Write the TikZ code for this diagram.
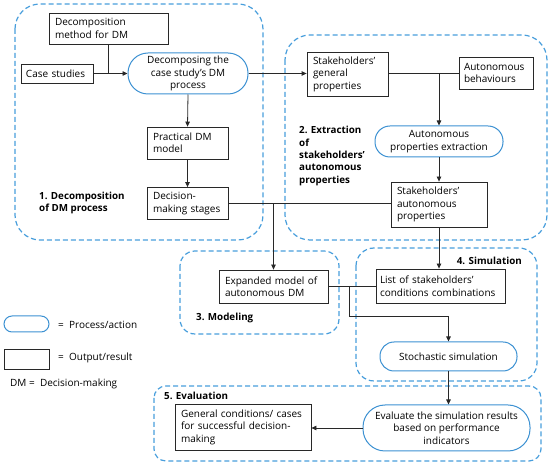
\documentclass[tikz,border=0pt]{standalone}
\usepackage{fontspec}
\setmainfont{Open Sans}
\usetikzlibrary{arrows.meta}
\definecolor{grpblue}{RGB}{72,158,220}
\definecolor{procblue}{RGB}{60,145,210}
\definecolor{linegray}{RGB}{40,40,40}
\tikzset{
  base/.style={font=\fontsize{10}{12.5}\selectfont, inner ysep=0pt, text=black},
  rbox/.style={base, draw=linegray, line width=0.8pt, align=left, inner xsep=6pt},
  proc/.style={base, draw=procblue, line width=1pt, rounded corners=13pt, align=center, inner xsep=4pt},
  grp/.style={draw=grpblue, line width=1.2pt, dash pattern=on 5pt off 3pt},
  lbl/.style={font=\bfseries\fontsize{9.8}{12.3}\selectfont, align=left, inner sep=0pt},
  conn/.style={draw=linegray, line width=0.8pt},
  arr/.style={conn, -{Triangle[length=5pt,width=4.5pt]}},
}
\begin{document}
\begin{tikzpicture}[x=1pt,y=-1pt]
\useasboundingbox (0,0) rectangle (550,462);
% groups
\draw[grp, rounded corners=25pt] (15,4) rectangle (263,240);
\draw[grp, rounded corners=25pt] (285,35) rectangle (547,240);
\draw[grp, rounded corners=15pt] (180,251) rectangle (339,334);
\draw[grp, rounded corners=18pt] (356,248) rectangle (537,381);
\draw[grp, rounded corners=12pt] (154,386) rectangle (541,461);
% group labels
\node[lbl, anchor=west] (l1) at (39,203) {1. Decomposition\\of DM process};
\node[lbl, anchor=west] (l2) at (299,156) {2. Extraction\\of\\stakeholders'\\autonomous\\properties};
\node[lbl, anchor=west] (l3) at (196,318) {3. Modeling};
\node[lbl, anchor=east] (l4) at (522,261) {4. Simulation};
\node[lbl, anchor=west] (l5) at (164,396) {5. Evaluation};
% nodes
\node[rbox, minimum width=119pt, text width=107pt, minimum height=31pt] (dmm) at (108.5,28.5) {Decomposition\\method for DM};
\node[rbox, minimum width=72pt, text width=62pt, minimum height=19pt, inner xsep=5pt] (case) at (57,73.5) {Case studies};
\node[proc, minimum width=120pt, minimum height=41pt, rounded corners=20pt] (dec) at (188,73.5) {Decomposing the\\case study's DM\\process};
\node[rbox, minimum width=81pt, text width=69pt, minimum height=32pt] (prac) at (187.5,143) {Practical DM\\model};
\node[rbox, minimum width=81pt, text width=69pt, minimum height=32pt] (stg) at (187.5,203.5) {Decision-\\making stages};
\node[rbox, minimum width=81pt, text width=69pt, minimum height=44pt] (gen) at (347.5,74) {Stakeholders'\\general\\properties};
\node[rbox, minimum width=74pt, text width=64pt, minimum height=32pt, inner xsep=5pt] (beh) at (496,73) {Autonomous\\behaviours};
\node[proc, minimum width=128pt, minimum height=31pt, rounded corners=15pt] (ape) at (439,141.5) {Autonomous\\properties extraction};
\node[rbox, minimum width=96pt, text width=84pt, minimum height=45pt] (sap) at (439,204.5) {Stakeholders'\\autonomous\\properties};
\node[rbox, minimum width=109pt, text width=97pt, minimum height=33pt] (exp) at (273.5,286.5) {Expanded model of\\autonomous DM};
\node[rbox, minimum width=129pt, text width=121pt, minimum height=34pt, inner xsep=4pt] (lst) at (440.5,286) {List of stakeholders'\\conditions combinations};
\node[proc, minimum width=137pt, minimum height=29pt, rounded corners=14pt] (sto) at (448.5,356.5) {Stochastic simulation};
\node[rbox, minimum width=136pt, text width=124pt, minimum height=46pt] (gcc) at (243,427) {General conditions/ cases\\for successful decision-\\making};
\node[proc, minimum width=167pt, minimum height=46pt, rounded corners=22pt] (eva) at (446.5,428) {Evaluate the simulation results\\based on performance\\indicators};
% legend
\node[proc, minimum width=45pt, minimum height=16pt, rounded corners=8pt] (lgp) at (26.5,324) {};
\node[base, anchor=west, inner xsep=0pt] (lgpt) at (58,325) {=\ \ Process/action};
\node[rbox, minimum width=45pt, minimum height=20pt, text width=31pt] (lgr) at (26.5,359) {};
\node[base, anchor=west, inner xsep=0pt] (lgrt) at (58,358) {=\ \ Output/result};
\node[base, anchor=west, inner xsep=0pt] (lgd) at (10,384) {DM =\ \ Decision-making};
% coordinates
\coordinate (j1) at (dmm.south |- case.east);
\coordinate (j2) at (ape.north |- beh.west);
\coordinate (j3) at (exp.north |- stg.east);
\coordinate (j4) at (349,286);
\coordinate (j5) at (349,316);
\coordinate (j6) at (sto.north |- j5);
% connectors
\draw[arr] (case.east) -- (dec.west |- case.east);
\draw[conn] (dmm.south) -- (j1);
\draw[arr] (dec.south) -- (prac.north);
\draw[arr] (prac.south) -- (stg.north);
\draw[arr] (dec.east) -- (gen.west |- dec.east);
\draw[conn] (gen.east |- beh.west) -- (beh.west);
\draw[arr] (j2) -- (ape.north);
\draw[arr] (ape.south) -- (sap.north);
\draw[conn] (stg.east) -- (sap.west |- stg.east);
\draw[arr] (j3) -- (exp.north);
\draw[arr] (sap.south) -- (sap.south |- lst.north);
\draw[conn] (exp.east |- j4) -- (lst.west |- j4);
\draw[arr] (j4) -- (j5) -- (j6) -- (sto.north);
\draw[arr] (sto.south) -- (sto.south |- eva.north);
\draw[arr] (eva.west) -- (gcc.east |- eva.west);
\end{tikzpicture}
\end{document}
